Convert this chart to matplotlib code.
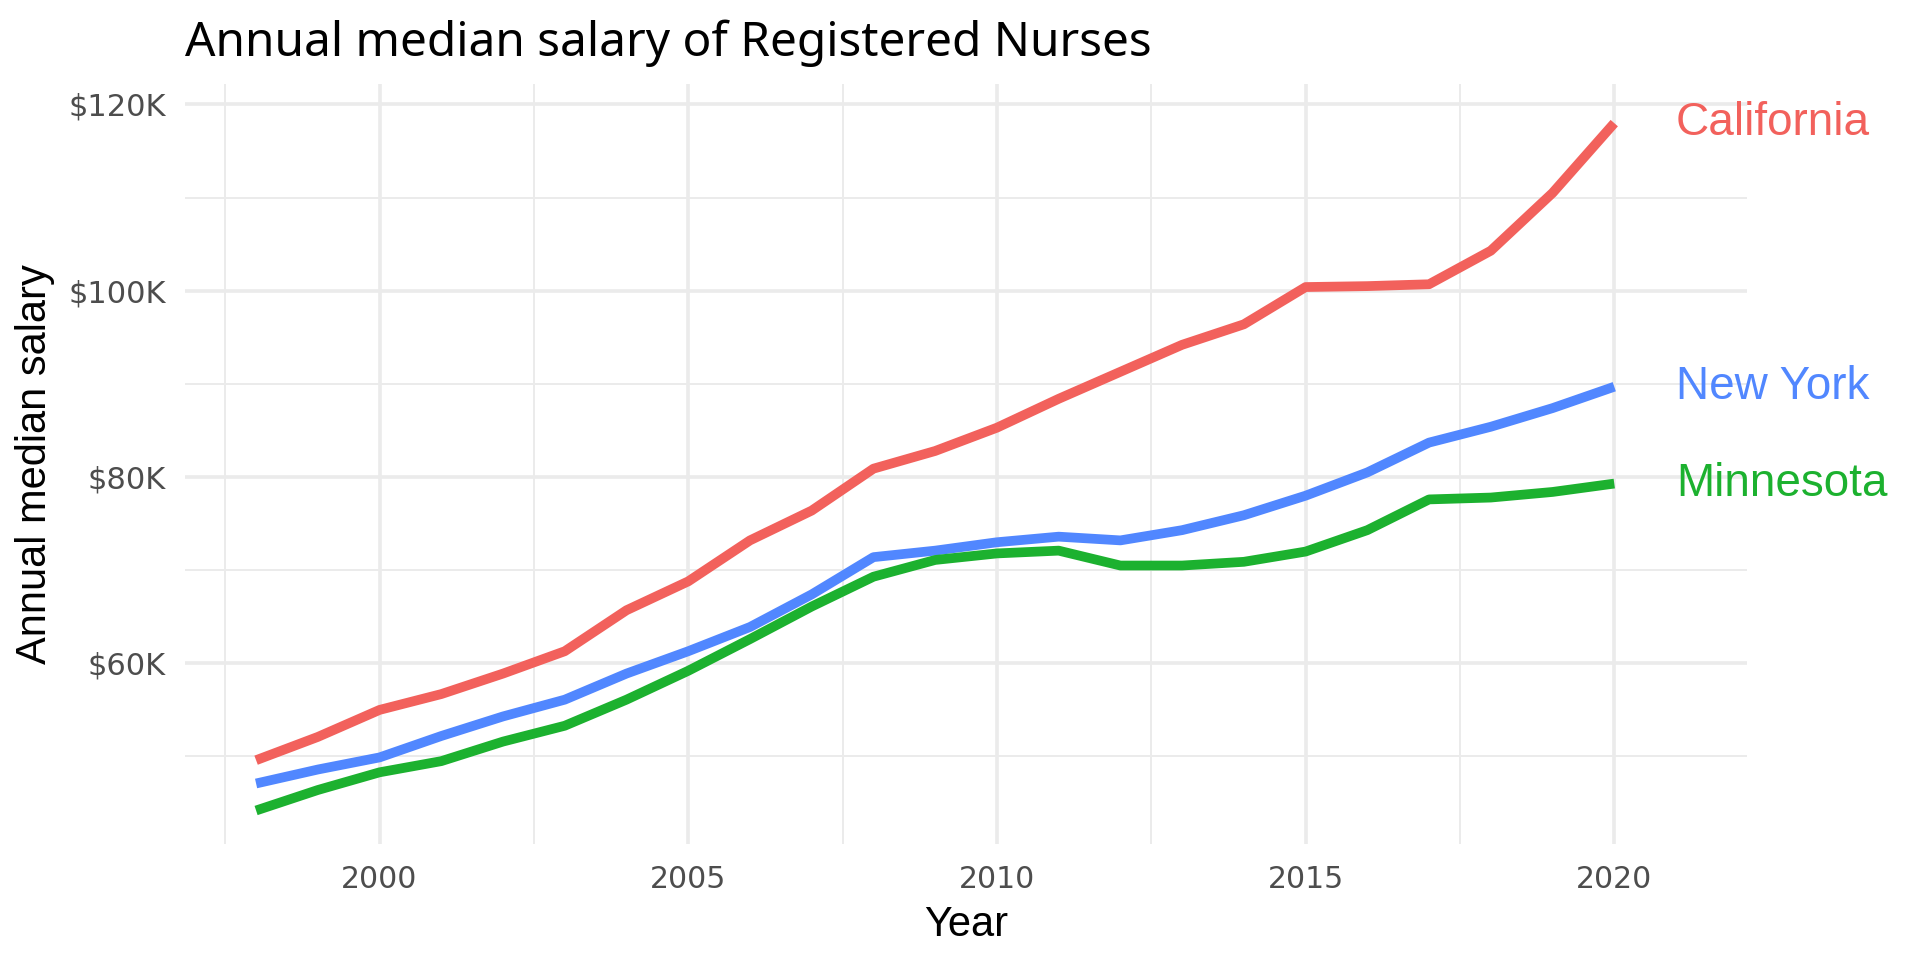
import matplotlib
matplotlib.use("Agg")
import matplotlib.pyplot as plt
from matplotlib.ticker import FixedLocator, FuncFormatter

# Data (thousands of dollars)
years = list(range(1998, 2021))
california = [49.6, 52.1, 55.0, 56.7, 58.9, 61.3, 65.7, 68.8, 73.2, 76.4, 80.9, 82.8,
              85.3, 88.4, 91.3, 94.2, 96.4, 100.4, 100.5, 100.7, 104.3, 110.5, 118.0]
new_york = [47.1, 48.6, 49.9, 52.2, 54.3, 56.1, 58.9, 61.3, 63.9, 67.4, 71.4, 72.1,
            73.0, 73.6, 73.2, 74.3, 75.9, 78.0, 80.5, 83.7, 85.4, 87.4, 89.7]
minnesota = [44.2, 46.4, 48.3, 49.5, 51.6, 53.3, 56.1, 59.2, 62.6, 66.1, 69.3, 71.1,
             71.8, 72.1, 70.5, 70.5, 70.9, 72.0, 74.3, 77.6, 77.8, 78.4, 79.3]
states = ["California", "New York", "Minnesota"]
colors = ["#F2615C", "#5187FF", "#1CB12F"]

x_major = [2000, 2005, 2010, 2015, 2020]
x_minor = [1997.5, 2002.5, 2007.5, 2012.5, 2017.5]
y_major = [60, 80, 100, 120]
y_minor = [50, 70, 90, 110]

fig = plt.figure(figsize=(19.2, 9.6), dpi=100)
ax = fig.add_axes([0.0964, 0.1208, 0.8135, 0.7917])

for name, vals, col in zip(states, [california, new_york, minnesota], colors):
    ax.plot(years, vals, color=col, linewidth=7, solid_capstyle="butt", zorder=3)
    ax.text(2021, vals[-1], name, color=col, fontsize=33, family="Liberation Sans",
            ha="left", va="center", clip_on=False)

ax.set_xlim(1996.85, 2022.15)
ax.set_ylim(40.6, 122.2)

ax.xaxis.set_major_locator(FixedLocator(x_major))
ax.xaxis.set_minor_locator(FixedLocator(x_minor))
ax.yaxis.set_major_locator(FixedLocator(y_major))
ax.yaxis.set_minor_locator(FixedLocator(y_minor))
ax.yaxis.set_major_formatter(FuncFormatter(lambda v, p: f"${v:.0f}K"))

ax.grid(which="major", color="#EBEBEB", linewidth=2.6)
ax.grid(which="minor", color="#EBEBEB", linewidth=1.4)
ax.set_axisbelow(True)
for s in ax.spines.values():
    s.set_visible(False)
ax.tick_params(which="both", length=0)
ax.tick_params(axis="x", pad=15, labelsize=21.5, labelcolor="#4D4D4D")
ax.tick_params(axis="y", pad=14, labelsize=22, labelcolor="#4D4D4D")
for lab in ax.get_xticklabels() + ax.get_yticklabels():
    lab.set_family("DejaVu Sans")

ax.set_xlabel("Year", fontsize=30, family="Liberation Sans", labelpad=8)
ax.set_ylabel("Annual median salary", fontsize=30, family="Liberation Sans", labelpad=9.5)
ax.set_title("Annual median salary of Registered Nurses", loc="left", fontsize=34.4,
             family="Noto Sans", pad=20)

fig.savefig("out.png", dpi=100, facecolor="white")
